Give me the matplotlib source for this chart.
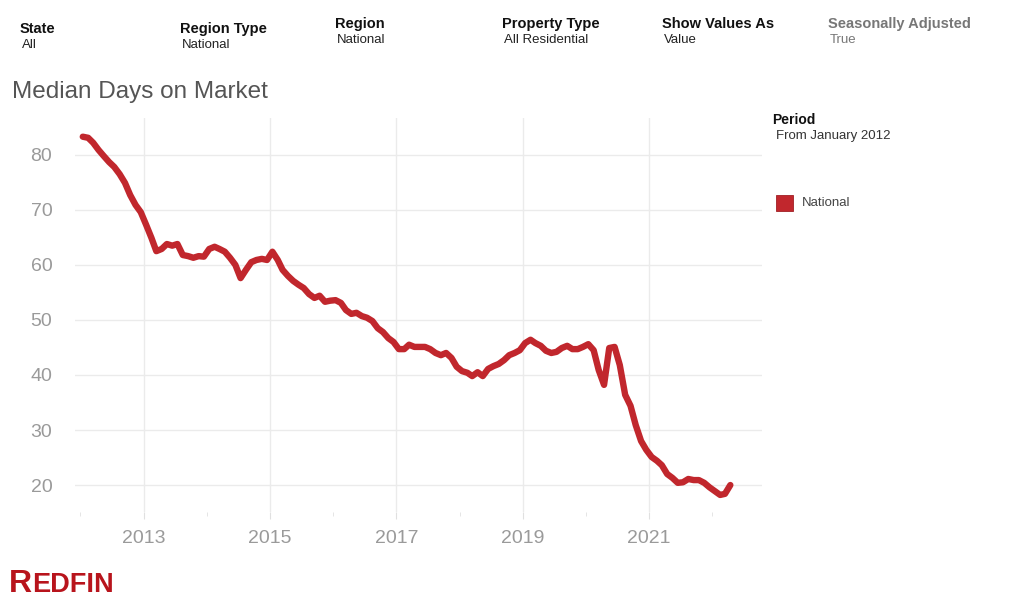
import numpy as np
import pandas as pd
import matplotlib
matplotlib.use("Agg")
import matplotlib.pyplot as plt
import matplotlib.dates as mdates
from matplotlib.patches import Rectangle

plt.rcParams['font.family'] = ['Liberation Sans', 'DejaVu Sans']

# monthly median days on market, Jan 2012 - Apr 2022
start_month = "2012-01-01"
days_on_market = [
    83.3, 83.1, 82.2, 80.9, 79.8, 78.7, 77.8, 76.5, 74.9, 72.7, 70.9, 69.6,
    67.3, 64.9, 62.5, 62.9, 63.8, 63.5, 63.8, 61.8, 61.6, 61.3, 61.6, 61.5,
    62.9, 63.3, 62.9, 62.4, 61.3, 60.0, 57.6, 59.1, 60.5, 60.9, 61.1, 60.9,
    62.4, 60.9, 59.1, 58.0, 57.1, 56.4, 55.8, 54.7, 54.0, 54.4, 53.3, 53.5,
    53.6, 53.1, 51.8, 51.1, 51.3, 50.7, 50.4, 49.8, 48.5, 47.8, 46.7, 46.0,
    44.7, 44.7, 45.5, 45.1, 45.1, 45.1, 44.7, 44.0, 43.6, 44.0, 43.1, 41.5,
    40.7, 40.4, 39.8, 40.5, 39.8, 41.1, 41.6, 42.0, 42.7, 43.6, 44.0, 44.5,
    45.8, 46.4, 45.8, 45.3, 44.4, 44.0, 44.2, 44.9, 45.3, 44.7, 44.7, 45.1,
    45.6, 44.5, 40.9, 38.2, 44.9, 45.1, 41.8, 36.4, 34.4, 30.9, 28.0, 26.4,
    25.1, 24.4, 23.6, 22.0, 21.3, 20.4, 20.5, 21.1, 20.9, 20.9, 20.4, 19.6,
    18.9, 18.2, 18.4, 20.0,
]
series_name = "National"
y_ticks = [20, 30, 40, 50, 60, 70, 80]
label_years = [2013, 2015, 2017, 2019, 2021]
minor_years = [2012, 2014, 2016, 2018, 2020, 2022]

filters = [
    ("State", "All"),
    ("Region Type", "National"),
    ("Region", "National"),
    ("Property Type", "All Residential"),
    ("Show Values As", "Value"),
    ("Seasonally Adjusted", "True"),
]

dates = pd.date_range(start_month, periods=len(days_on_market), freq="MS") + pd.Timedelta(days=14)

W, H = 1024, 602
fig = plt.figure(figsize=(W / 100, H / 100), dpi=100)


def fx(px):
    return px / W


def fy(py):
    return 1 - py / H


ax = fig.add_axes([fx(75), fy(512), fx(762 - 75), (512 - 118) / H])
red = "#c1272d"
ax.plot(dates, days_on_market, color=red, lw=4.6, solid_capstyle="round",
        solid_joinstyle="round")

ax.set_ylim(15.1, 86.7)
ax.set_xlim(pd.Timestamp("2011-12-01"), pd.Timestamp("2022-10-15"))
ax.set_yticks(y_ticks)
ax.set_xticks([pd.Timestamp(f"{y}-01-01") for y in label_years])
ax.set_xticks([pd.Timestamp(f"{y}-01-01") for y in minor_years], minor=True)
ax.xaxis.set_major_formatter(mdates.DateFormatter("%Y"))

ax.grid(True, which="major", color="#ebebeb", lw=1)
ax.set_axisbelow(True)
for s in ax.spines.values():
    s.set_visible(False)
ax.tick_params(axis="y", length=0, pad=32, labelsize=14, labelcolor="#9a9a9a")
for lab in ax.get_yticklabels():
    lab.set_horizontalalignment("left")
ax.tick_params(axis="x", which="major", length=5, color="#e0e0e0", pad=8,
               labelsize=14, labelcolor="#9a9a9a")
ax.tick_params(axis="x", which="minor", length=3, color="#e0e0e0")

# header filters
hx = [20, 180, 335, 502, 662, 828]
hy = [29, 29, 24, 24, 24, 24]
for (name, val), x0, y0 in zip(filters, hx, hy):
    c1 = "#777777" if name == "Seasonally Adjusted" else "#111111"
    c2 = "#777777" if name == "Seasonally Adjusted" else "#222222"
    fig.text(fx(x0), fy(y0), name, fontsize=10.5, fontweight="bold", color=c1,
             va="center", ha="left")
    fig.text(fx(x0 + 2), fy(y0 + 16), val, fontsize=9.5, color=c2,
             va="center", ha="left")

fig.text(fx(12), fy(92), "Median Days on Market", fontsize=17.5, color="#555555",
         va="center", ha="left")

# legend area
fig.text(fx(772), fy(120), "Period", fontsize=10, fontweight="bold", color="#111111",
         va="center", ha="left")
fig.text(fx(776), fy(136), "From January 2012", fontsize=9.5, color="#333333",
         va="center", ha="left")
fig.patches.append(Rectangle((fx(776), fy(211)), 17 / W, 16 / H, transform=fig.transFigure,
                             facecolor=red, edgecolor="#a01f24", lw=0.6))
fig.text(fx(802), fy(203), series_name, fontsize=9.5, color="#444444",
         va="center", ha="left")

# logo: big R, then the rest placed right after it
logo_red = "#b8141c"
r = fig.text(fx(9), fy(592), "R", fontsize=23, fontweight="bold", color=logo_red,
             fontstretch="condensed", va="baseline", ha="left")
fig.canvas.draw()
rb = r.get_window_extent()
rest = fig.text(rb.x1 / W + 0.5 / W, fy(592), "EDFIN", fontsize=17, fontweight="bold",
                color=logo_red, fontstretch="condensed", va="baseline", ha="left")
fig.canvas.draw()
eb = rest.get_window_extent()
# size the word so it ends near x=120
target_w = 120 - rb.x1
rest.set_fontsize(min(19.5, 17 * target_w / eb.width))

fig.savefig("out.png", dpi=100)
